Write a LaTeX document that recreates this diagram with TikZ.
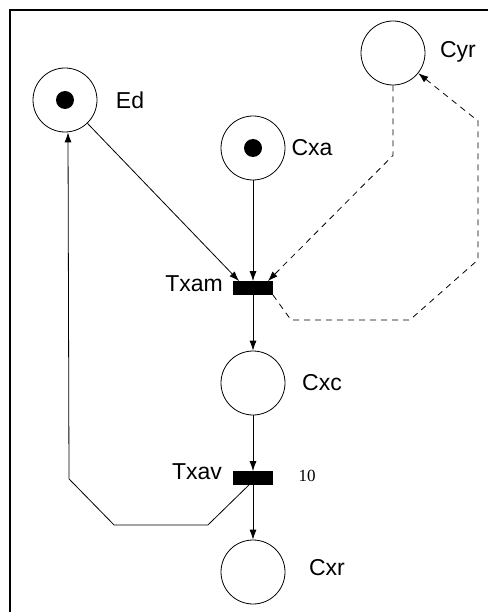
\documentclass[tikz,border=0pt]{standalone}
\usepackage{fontspec}
\setmainfont{Liberation Sans}
\newfontfamily\numfont{Liberation Serif}
\usetikzlibrary{positioning, arrows.meta}

\begin{document}
\begin{tikzpicture}[x=1pt, y=-1pt, on grid, line width=0.8pt,
  >={Latex[length=10pt, width=7pt]},
  place/.style={draw, circle, minimum size=64pt, inner sep=0pt},
  marked/.style={place, path picture={\fill (path picture bounding box.center) circle (9pt);}},
  trans/.style={draw, fill, rectangle, minimum width=39pt, minimum height=13pt, inner sep=0pt},
  lbl/.style={font=\fontsize{23}{25}\selectfont, inner sep=0pt},
  inhib/.style={dash pattern=on 6pt off 5pt}]
  \useasboundingbox (0,0) rectangle (487,612);
  \draw[line width=2pt] (10,640) -- (10,10) -- (500,10);

  \node[marked] (cxa) at (253,148) {};
  \node[trans] (txam) [below=140pt of cxa] {};
  \node[place] (cxc) [below=95pt of txam] {};
  \node[trans] (txav) [below=95pt of cxc] {};
  \node[place] (cxr) [below=94pt of txav] {};
  \node[marked] (ed) [above left=48pt and 188pt of cxa] {};
  \node[place] (cyr) [above right=95pt and 140pt of cxa] {};

  \node[lbl] (ed-l) [right=65pt of ed] {Ed};
  \node[lbl] (cxa-l) [right=59pt of cxa] {Cxa};
  \node[lbl] (cyr-l) [above right=1pt and 65pt of cyr] {Cyr};
  \node[lbl] (txam-l) [above left=4pt and 59pt of txam] {Txam};
  \node[lbl] (cxc-l) [right=69pt of cxc] {Cxc};
  \node[lbl] (txav-l) [above left=6pt and 56pt of txav] {Txav};
  \node[font=\numfont\fontsize{17}{19}\selectfont, inner sep=0pt] (txav-w) [above right=2pt and 54pt of txav] {10};
  \node[lbl] (cxr-l) [above right=4pt and 74pt of cxr] {Cxr};

  \path[->]
  (ed) edge ([xshift=6pt]txam.north west)
  (cxa) edge (txam)
  (txam) edge (cxc)
  (cxc) edge (txav)
  (txav) edge (cxr);

  \draw[->, inhib] (cyr.south) -- ++(0,70) -- ([xshift=-5pt]txam.north east);
  \draw[->, inhib] (txam.south east) -- ++(18,25) -- ++(119,0) -- ++(68,-60) -- ++(0,-139) -- (cyr);
  \draw[->] ([xshift=-4pt]txav.south) -- ++(-41,40) -- ++(-94,0) -- ++(-45,-46) -- ([xshift=3pt]ed.south);
\end{tikzpicture}
\end{document}
